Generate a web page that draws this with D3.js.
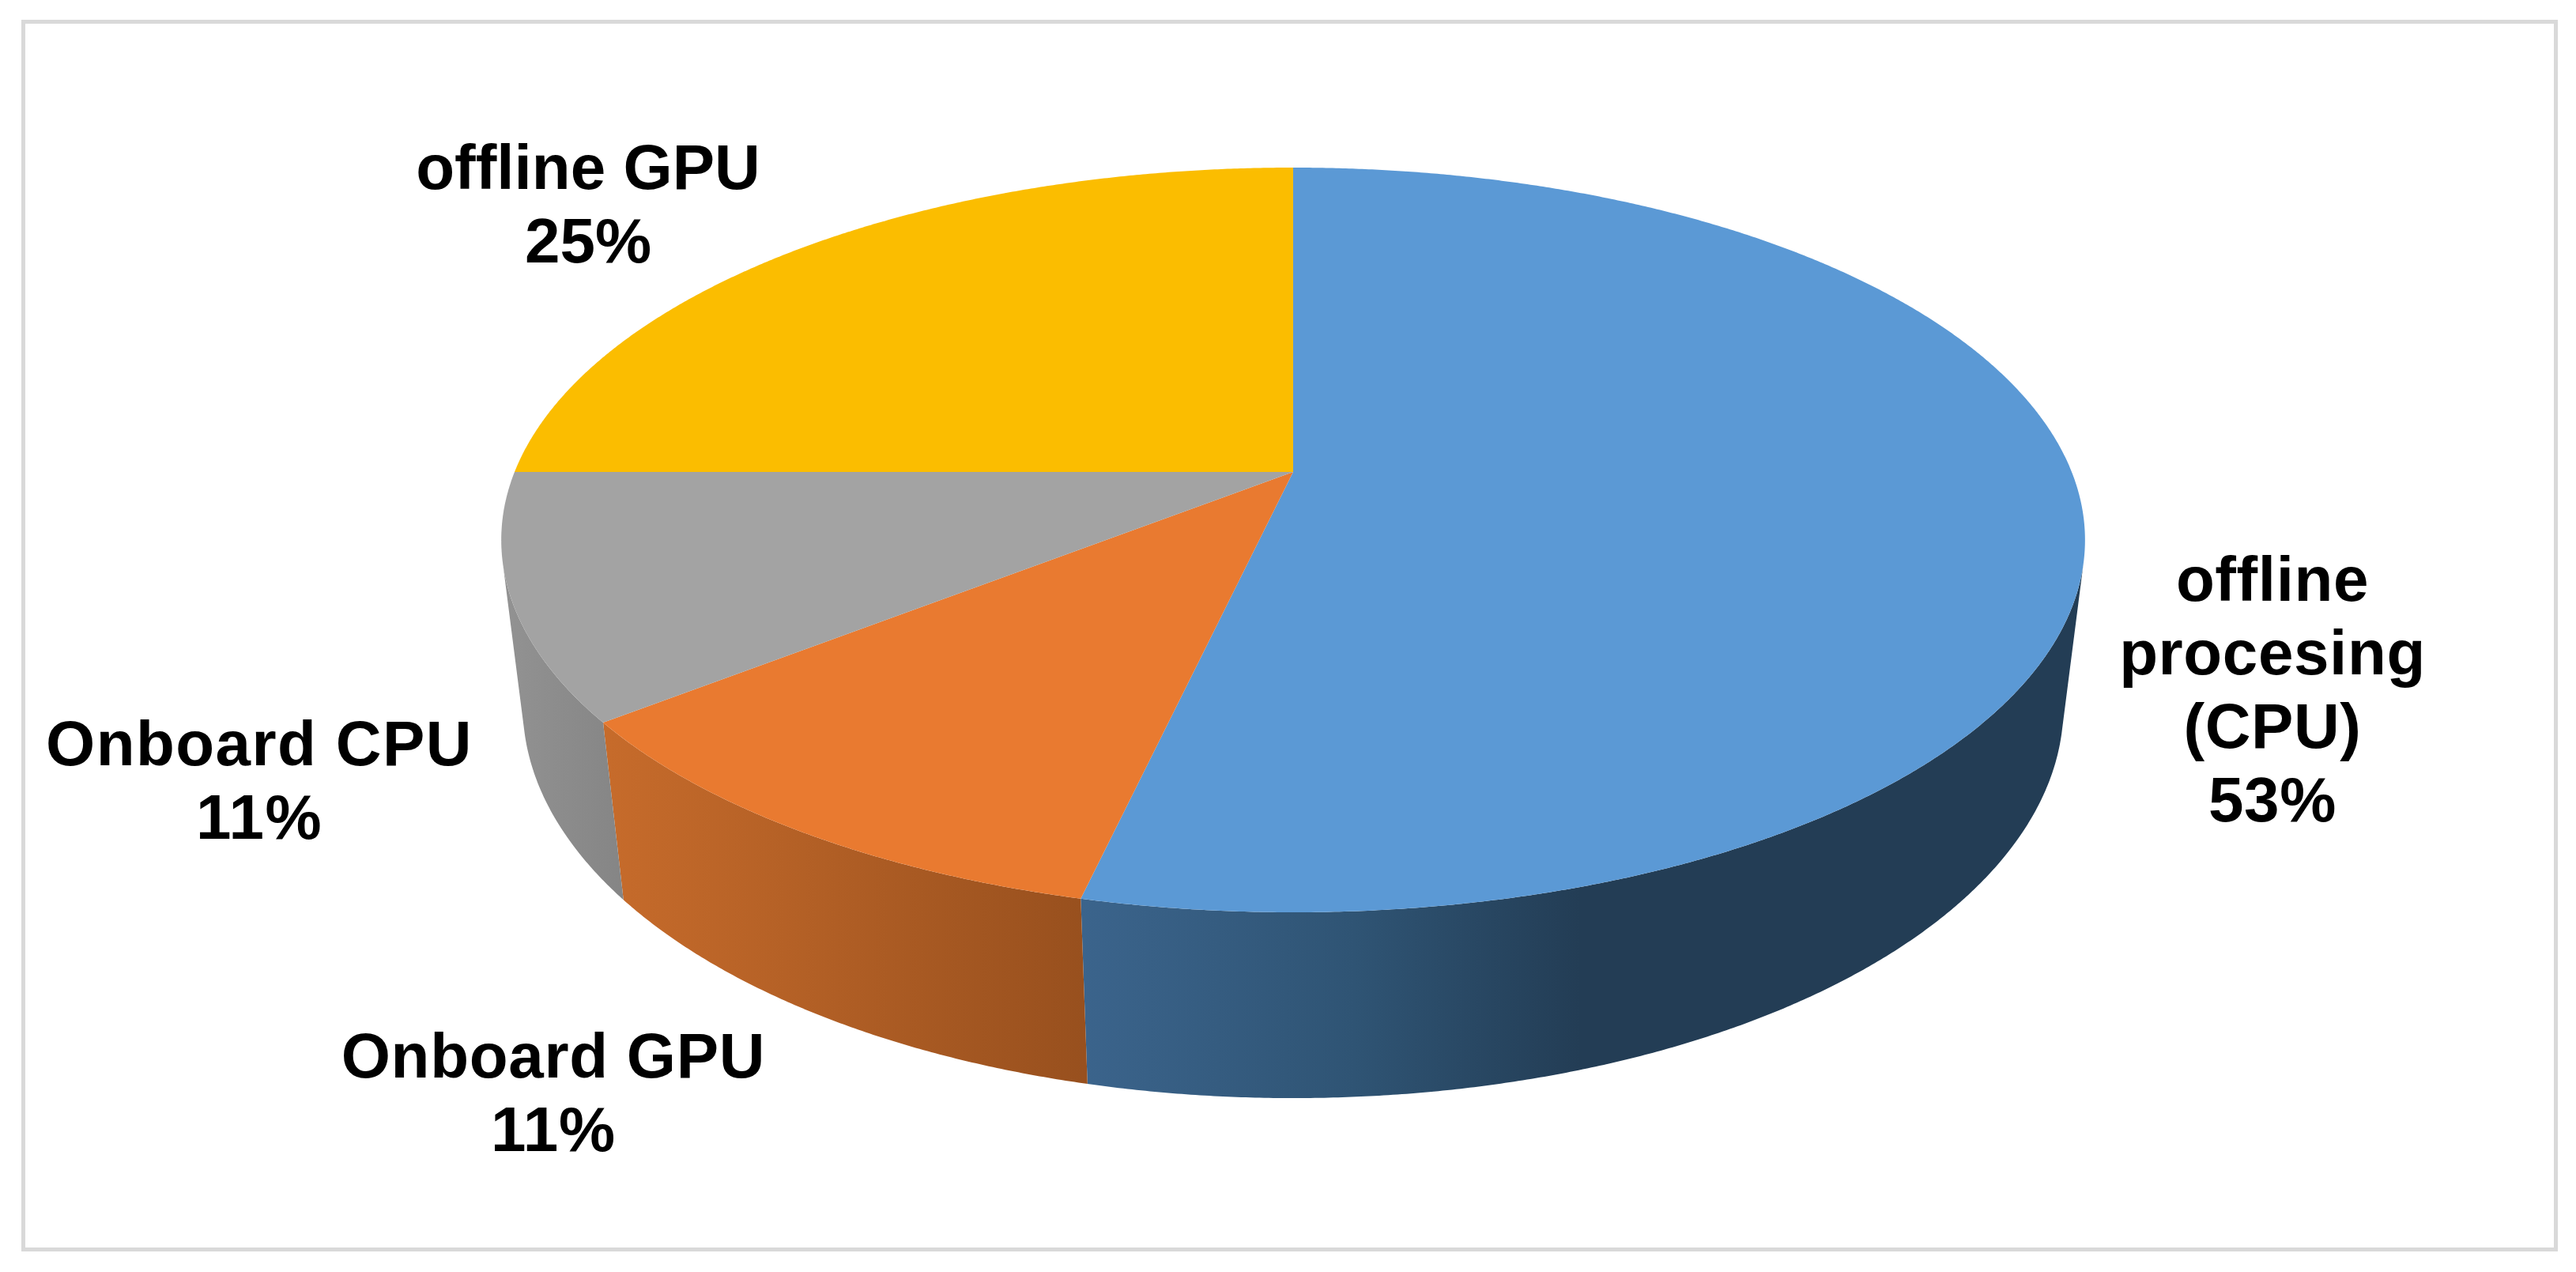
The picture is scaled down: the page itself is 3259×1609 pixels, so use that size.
<!DOCTYPE html>
<html>
<head>
<meta charset="utf-8">
<title>Processing share</title>
<script src="https://cdn.jsdelivr.net/npm/d3@7"></script>
<style>
  html, body { margin: 0; padding: 0; background: #fff; }
  svg { display: block; }
  text { font-family: "Liberation Sans", Arial, sans-serif; font-weight: bold; fill: #000; }
</style>
</head>
<body>
<svg id="chart"></svg>
<script>
const categories = ["offline procesing (CPU)", "Onboard GPU", "Onboard CPU", "offline GPU"];
const values = [53.6, 10.8, 10.6, 25];
const percentLabels = ["53%", "11%", "11%", "25%"];
const labelLines = [["offline", "procesing", "(CPU)"], ["Onboard GPU"], ["Onboard CPU"], ["offline GPU"]];

const width = 3259;
const height = 1609;
const topColors = ["#5b99d5", "#e97a30", "#a3a3a3", "#fbbd00"];
const sideStops = [
  [[0, "#3b648c"], [0.55, "#2f5474"], [1, "#233d55"]],
  [[0, "#c66b2b"], [1, "#98501e"]],
  [[0, "#929292"], [1, "#858585"]],
  [[0, "#a87e00"], [1, "#a87e00"]],
];
const sideRange = [[1366, 2000], [770, 1372], [640, 790], [630, 1640]];
// centre and first baseline of each label block
const labelAnchor = [[2875, 760], [700, 1363], [328, 968], [744, 239]];
const labelSpacing = [0.6, 0.7, 1.4, 0];
const fontSize = 80;
const lineStep = 93;

const svg = d3.select("#chart").attr("width", width).attr("height", height);
const defs = svg.append("defs");

svg.append("rect")
  .attr("x", 29.5).attr("y", 27.5)
  .attr("width", 3204).attr("height", 1553)
  .attr("fill", "#fff")
  .attr("stroke", "#d9d9d9")
  .attr("stroke-width", 5);

// perspective of the tilted disc, h = 0 top face, h = 1 bottom rim
const cx = 1636, cy = 597;
const ax = 985, ay = 455.3, tilt = 0.1826;
const drop = 213.5, dropTilt = 0.027;
function project(angle, h) {
  const X = Math.sin(angle), Y = Math.cos(angle);
  const w = 1 + tilt * Y + dropTilt * h;
  return [cx + (ax * X) / w, cy + (-ay * Y + drop * h) / w];
}

const arcs = d3.pie().sort(null).value((d) => d)(values);
const line = d3.line();

function steps(a) {
  const n = Math.max(2, Math.ceil((a.endAngle - a.startAngle) / 0.005));
  const t = d3.scaleLinear().domain([0, n]).range([a.startAngle, a.endAngle]);
  return d3.range(n + 1).map(t);
}

// side wall as one strip per step, only the strips that face the viewer
function sidePath(a) {
  return d3.pairs(steps(a))
    .map(([t0, t1]) => [project(t0, 0), project(t1, 0), project(t1, 1), project(t0, 1)])
    .filter((q) => d3.polygonArea(q) > 0)
    .map((q) => line(q) + "Z")
    .join("");
}

arcs.forEach((a, i) => {
  const grad = defs.append("linearGradient")
    .attr("id", `side${i}`)
    .attr("gradientUnits", "userSpaceOnUse")
    .attr("x1", sideRange[i][0]).attr("x2", sideRange[i][1])
    .attr("y1", 0).attr("y2", 0);
  sideStops[i].forEach((s) => grad.append("stop").attr("offset", s[0]).attr("stop-color", s[1]));
});

svg.append("g").selectAll("path")
  .data(arcs)
  .join("path")
  .attr("d", sidePath)
  .attr("fill", (a, i) => `url(#side${i})`);

svg.append("g").selectAll("path")
  .data(arcs)
  .join("path")
  .attr("d", (a) => line([[cx, cy], ...steps(a).map((t) => project(t, 0))]) + "Z")
  .attr("fill", (a, i) => topColors[i]);

const labels = svg.append("g").selectAll("text")
  .data(categories)
  .join("text")
  .attr("text-anchor", "middle")
  .style("font-size", `${fontSize}px`)
  .style("letter-spacing", (d, i) => `${labelSpacing[i]}px`);

labels.each(function (d, i) {
  const lines = [...labelLines[i], percentLabels[i]];
  d3.select(this).selectAll("tspan")
    .data(lines)
    .join("tspan")
    .attr("x", labelAnchor[i][0])
    .attr("y", (l, j) => labelAnchor[i][1] + j * lineStep)
    .text((l) => l);
});
</script>
</body>
</html>
